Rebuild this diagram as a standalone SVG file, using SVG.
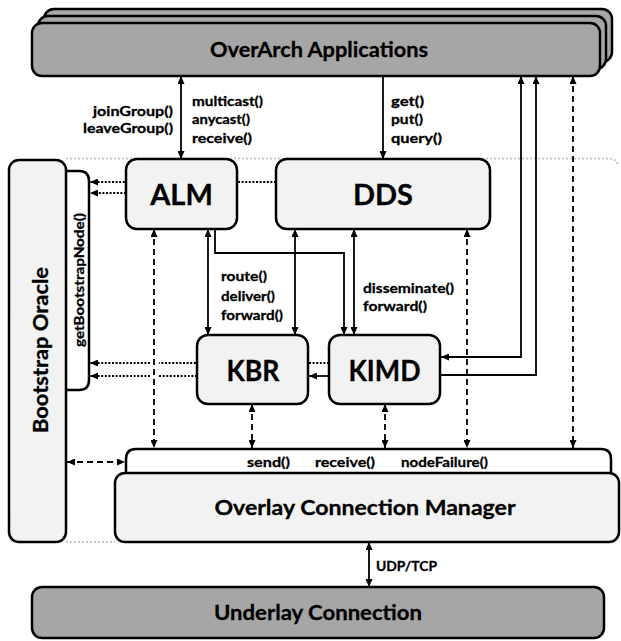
<svg xmlns="http://www.w3.org/2000/svg" width="621" height="641" viewBox="0 0 621 641">
<defs>
<marker id="ah" viewBox="0 0 8 7" refX="8" refY="3.5" markerWidth="8" markerHeight="7" markerUnits="userSpaceOnUse" orient="auto-start-reverse">
<path d="M0,0 L8,3.5 L0,7 z" fill="#000"/>
</marker>
</defs>
<style>
.box{fill:#f2f2f2;stroke:#000;stroke-width:2.5}
.dark{fill:#a6a6a6;stroke:#000;stroke-width:2.5}
.tab{fill:#fff;stroke:#000;stroke-width:2.5}
.c{fill:none;stroke:#000;stroke-width:1.8}
.d{stroke-dasharray:6 4}
.o{stroke-dasharray:2 1.6;stroke-width:2}
.t{font-family:Lato,"Open Sans",sans-serif;font-weight:bold;fill:#000;stroke:#000;stroke-width:0.3}
.big{font-size:29px;text-anchor:middle}
.mid{font-size:21px;text-anchor:middle}
.lab{font-size:14px}
</style>
<rect width="621" height="641" fill="#fff"/>
<g id="boundary">
<path d="M66 158.5 H609 Q617 158.5 618 166" fill="none" stroke="#c8c8c8" stroke-width="2" stroke-dasharray="2 2"/>
<path d="M66 542 H115" fill="none" stroke="#c8c8c8" stroke-width="2" stroke-dasharray="2 2"/>
</g>
<g id="connectors">
<path class="c" d="M181 76 V159" marker-start="url(#ah)" marker-end="url(#ah)"/>
<path class="c" d="M383 76 V159" marker-end="url(#ah)"/>
<path class="c" d="M521 76 V357 H441" marker-start="url(#ah)" marker-end="url(#ah)"/>
<path class="c" d="M441 375 H536 V76" marker-end="url(#ah)"/>
<path class="c d" d="M573 76 V448" marker-start="url(#ah)" marker-end="url(#ah)"/>
<path class="c" d="M208 229 V335" marker-start="url(#ah)" marker-end="url(#ah)"/>
<path class="c" d="M295 229 V335" marker-start="url(#ah)" marker-end="url(#ah)"/>
<path class="c" d="M215 229 V253 H344 V335" marker-end="url(#ah)"/>
<path class="c" d="M354 229 V335" marker-start="url(#ah)" marker-end="url(#ah)"/>
<path class="c d" d="M154 229 V448" marker-start="url(#ah)" marker-end="url(#ah)"/>
<path class="c d" d="M467 229 V448" marker-start="url(#ah)" marker-end="url(#ah)"/>
<path class="c d" d="M252 404 V448" marker-start="url(#ah)" marker-end="url(#ah)"/>
<path class="c d" d="M385 404 V448" marker-start="url(#ah)" marker-end="url(#ah)"/>
<path class="c d" d="M67 462 H125" marker-start="url(#ah)" marker-end="url(#ah)"/>
<path class="c" d="M369 542 V587" marker-start="url(#ah)" marker-end="url(#ah)"/>
<path class="c" d="M329 376 H309" marker-end="url(#ah)"/>
<path class="c o" d="M276 182 H90" marker-end="url(#ah)"/>
<path class="c o" d="M126 193 H90" marker-end="url(#ah)"/>
<path class="c o" d="M329 363 H159 M150 363 H90" marker-end="url(#ah)"/>
<path class="c o" d="M197 376 H159 M150 376 H90" marker-end="url(#ah)"/>
</g>
<g id="apps">
<rect class="dark" x="44" y="9" width="568" height="53" rx="10"/>
<rect class="dark" x="38" y="16" width="568" height="53" rx="10"/>
<rect class="dark" x="32" y="23" width="568" height="53" rx="10"/>
<text class="t mid" x="319" y="57" textLength="218" lengthAdjust="spacingAndGlyphs">OverArch Applications</text>
</g>
<g id="labels">
<text class="t lab" x="93" y="115.5" textLength="80" lengthAdjust="spacingAndGlyphs">joinGroup()</text>
<text class="t lab" x="83" y="132.5" textLength="90" lengthAdjust="spacingAndGlyphs">leaveGroup()</text>
<text class="t lab" x="192" y="105.5" textLength="71" lengthAdjust="spacingAndGlyphs">multicast()</text>
<text class="t lab" x="192" y="124" textLength="58" lengthAdjust="spacingAndGlyphs">anycast()</text>
<text class="t lab" x="192" y="142.5" textLength="60" lengthAdjust="spacingAndGlyphs">receive()</text>
<text class="t lab" x="391" y="105.5" textLength="33" lengthAdjust="spacingAndGlyphs">get()</text>
<text class="t lab" x="391" y="124" textLength="32" lengthAdjust="spacingAndGlyphs">put()</text>
<text class="t lab" x="391" y="142.5" textLength="51" lengthAdjust="spacingAndGlyphs">query()</text>
<text class="t lab" x="221" y="281" textLength="46" lengthAdjust="spacingAndGlyphs">route()</text>
<text class="t lab" x="221" y="300.5" textLength="54" lengthAdjust="spacingAndGlyphs">deliver()</text>
<text class="t lab" x="221" y="319.5" textLength="62" lengthAdjust="spacingAndGlyphs">forward()</text>
<text class="t lab" x="363" y="293" textLength="91" lengthAdjust="spacingAndGlyphs">disseminate()</text>
<text class="t lab" x="363" y="311" textLength="64" lengthAdjust="spacingAndGlyphs">forward()</text>
<text class="t lab" x="376" y="571" textLength="61" lengthAdjust="spacingAndGlyphs">UDP/TCP</text>
</g>
<g id="alm">
<rect class="box" x="126" y="159" width="111" height="70" rx="11"/>
<text class="t big" x="181.5" y="205">ALM</text>
</g>
<g id="dds">
<rect class="box" x="276" y="159" width="214" height="70" rx="11"/>
<text class="t big" x="383" y="205">DDS</text>
</g>
<g id="kbr">
<rect class="box" x="197" y="335" width="111" height="69" rx="11"/>
<text class="t big" x="253" y="381" textLength="53" lengthAdjust="spacingAndGlyphs">KBR</text>
</g>
<g id="kimd">
<rect class="box" x="329" y="335" width="111" height="69" rx="11"/>
<text class="t big" x="384.5" y="381" textLength="72" lengthAdjust="spacingAndGlyphs">KIMD</text>
</g>
<g id="bootstrap">
<path class="tab" d="M66 171 H79 Q89 171 89 181 V380 Q89 390 79 390 H66"/>
<rect class="box" x="9" y="160" width="57" height="382" rx="10"/>
<text class="t mid" transform="translate(48 350) rotate(-90)" x="0" y="0" textLength="166" lengthAdjust="spacingAndGlyphs">Bootstrap Oracle</text>
<text class="t" font-size="13.5" text-anchor="middle" transform="translate(84 280) rotate(-90)" x="0" y="0" textLength="134" lengthAdjust="spacingAndGlyphs">getBootstrapNode()</text>
</g>
<g id="ocm">
<path class="tab" d="M126 473 V459 Q126 449 136 449 H601 Q611 449 611 459 V473"/>
<rect class="box" x="115" y="473" width="504" height="69" rx="10"/>
<text class="t mid" x="365" y="515" textLength="301" lengthAdjust="spacingAndGlyphs">Overlay Connection Manager</text>
<text class="t lab" x="247" y="467" textLength="43" lengthAdjust="spacingAndGlyphs">send()</text>
<text class="t lab" x="315" y="467" textLength="60" lengthAdjust="spacingAndGlyphs">receive()</text>
<text class="t lab" x="401" y="467" textLength="87" lengthAdjust="spacingAndGlyphs">nodeFailure()</text>
</g>
<g id="underlay">
<rect class="dark" x="32" y="587" width="572" height="51" rx="10"/>
<text class="t mid" x="318" y="620" textLength="208" lengthAdjust="spacingAndGlyphs">Underlay Connection</text>
</g>
</svg>
